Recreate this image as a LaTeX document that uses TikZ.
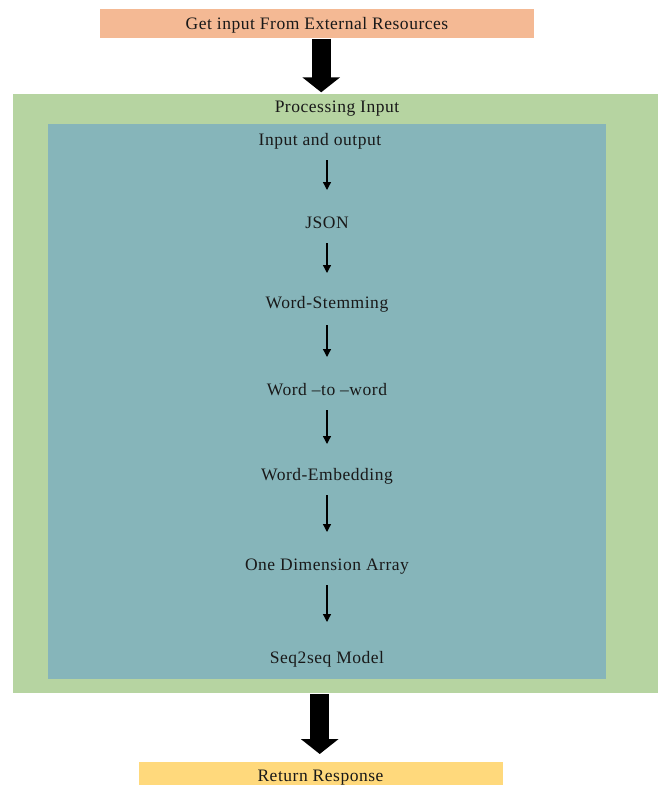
\documentclass[tikz,border=0pt]{standalone}
\usepackage{fontspec}
\setmainfont{Liberation Serif}
\usetikzlibrary{arrows.meta}
\definecolor{peach}{HTML}{F4B994}
\definecolor{leaf}{HTML}{B6D4A1}
\definecolor{teal2}{HTML}{86B5BA}
\definecolor{sun}{HTML}{FFD97C}
\tikzset{
  box/.style={rectangle, inner sep=0pt, anchor=north west},
  lbl/.style={inner sep=0pt, font=\fontsize{17.5}{19}\selectfont\addfontfeature{LetterSpace=3}, text=black!90},
  small/.style={line width=1.3pt, -{Triangle[length=8pt,width=8pt]}},
  big/.style={line width=19pt, -{Triangle[length=15pt,width=37pt]}, shorten >=0pt},
}
\begin{document}
\begin{tikzpicture}[x=1pt,y=-1pt]
\useasboundingbox (0,0) rectangle (664,785);
\node[box, fill=peach, minimum width=434.5pt, minimum height=28.6pt] (top) at (99.5,8.7) {};
\node[lbl] (toptxt) at (317,25) {Get input From External Resources};
\node[box, fill=leaf, minimum width=645.7pt, minimum height=599.4pt] (green) at (12.3,93.3) {};
\node[box, fill=teal2, minimum width=557.7pt, minimum height=554.7pt] (blue) at (48,124) {};
\node[box, fill=sun, minimum width=364.4pt, minimum height=30pt] (bot) at (138.3,761.3) {};
\node[lbl] (bottxt) at (320.5,778) {Return Response};
\node[lbl] (proc) at (337,109) {Processing Input};
\node[lbl] (n1) at (320,141.5) {Input and output};
\node[lbl] (n2) at (327,223) {JSON};
\node[lbl] (n3) at (327,304) {Word-Stemming};
\node[lbl] (n4) at (327,390) {Word --to --word};
\node[lbl] (n5) at (327,476) {Word-Embedding};
\node[lbl] (n6) at (327,567) {One Dimension Array};
\node[lbl] (n7) at (327,659) {Seq2seq Model};
\coordinate (a1s) at (327,160); \coordinate (a1e) at (327,190);
\coordinate (a2s) at (327,243); \coordinate (a2e) at (327,273);
\coordinate (a3s) at (327,325); \coordinate (a3e) at (327,357);
\coordinate (a4s) at (327,410); \coordinate (a4e) at (327,444);
\coordinate (a5s) at (327,495); \coordinate (a5e) at (327,532);
\coordinate (a6s) at (327,585); \coordinate (a6e) at (327,622);
\foreach \i in {1,...,6} {\draw[small] (a\i s) -- (a\i e);}
\coordinate (b1s) at (321.2,38.7); \coordinate (b1e) at (321.2,92.3);
\coordinate (b2s) at (319.7,694); \coordinate (b2e) at (319.7,754);
\draw[big] (b1s) -- (b1e);
\draw[big] (b2s) -- (b2e);
\end{tikzpicture}
\end{document}
